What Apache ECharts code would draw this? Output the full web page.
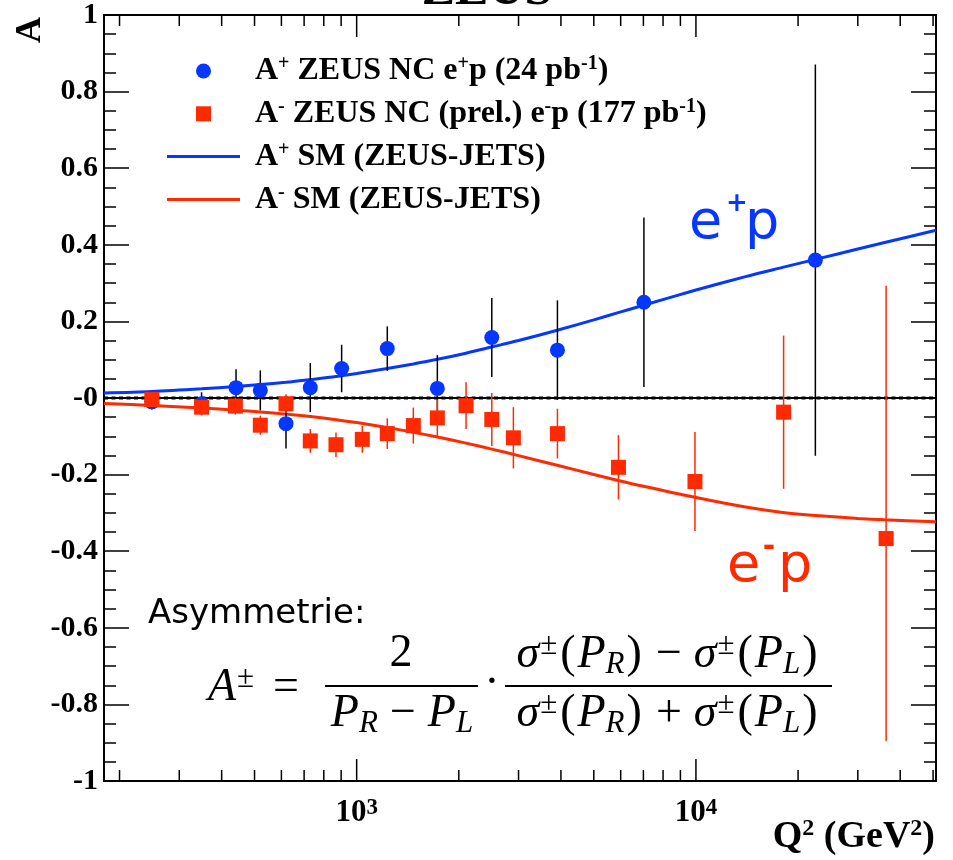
<!DOCTYPE html>
<html>
<head>
<meta charset="utf-8">
<script src="https://cdn.jsdelivr.net/npm/echarts@6/dist/echarts.min.js"></script>
<style>html,body{margin:0;padding:0;background:#fff;}#c{width:953px;height:860px;}</style>
</head>
<body>
<div id="c"></div>
<script>
// ---- data ----
const xMin = 180, xMax = 51000;
const blueQ   = [249, 349, 441, 520, 619, 730, 903, 1231, 1729, 2502, 3906, 7025, 22490];
const blueA   = [-0.010, -0.015, 0.027, 0.020, -0.067, 0.027, 0.077, 0.129, 0.025, 0.158, 0.125, 0.250, 0.360];
const blueErr = [0.020, 0.030, 0.048, 0.052, 0.065, 0.064, 0.062, 0.058, 0.087, 0.103, 0.130, 0.221, 0.511];

const redQ     = [249, 349, 439, 520, 619, 730, 869, 1039, 1231, 1469, 1729, 2101, 2502, 2897, 3906, 5910, 9934, 18130, 36350];
const redA     = [-0.004, -0.024, -0.021, -0.071, -0.015, -0.112, -0.122, -0.108, -0.093, -0.072, -0.052, -0.020, -0.056, -0.104, -0.093, -0.181, -0.218, -0.037, -0.367];
const redErrLo = [0.015, 0.020, 0.022, 0.025, 0.025, 0.031, 0.032, 0.035, 0.040, 0.047, 0.048, 0.061, 0.069, 0.080, 0.065, 0.084, 0.129, 0.200, 0.529];
const redErrHi = [0.015, 0.020, 0.022, 0.025, 0.025, 0.031, 0.032, 0.035, 0.040, 0.047, 0.048, 0.061, 0.069, 0.080, 0.065, 0.084, 0.129, 0.200, 0.660];

const smQ    = [180, 249, 349, 441, 520, 619, 730, 870, 1000, 1230, 1470, 1730, 2100, 2500, 3000, 3900, 5000, 5900, 7000, 10000, 14000, 18000, 22500, 30000, 36000, 51000];
const smPlus = [0.013, 0.017, 0.024, 0.030, 0.035, 0.041, 0.048, 0.056, 0.064, 0.077, 0.089, 0.101, 0.117, 0.133, 0.150, 0.177, 0.204, 0.223, 0.242, 0.282, 0.317, 0.341, 0.362, 0.389, 0.406, 0.438];
const smMinus= [-0.0146, -0.0195, -0.0261, -0.0317, -0.0364, -0.0421, -0.0485, -0.0565, -0.0641, -0.0771, -0.0895, -0.1019, -0.1179, -0.1334, -0.1504, -0.1757, -0.1997, -0.2152, -0.2304, -0.2598, -0.2846, -0.2988, -0.3070, -0.3145, -0.3181, -0.3234];

const xMajorTicks = [1000, 10000];
const xMinorTicks = [200, 300, 400, 500, 600, 700, 800, 900, 2000, 3000, 4000, 5000, 6000, 7000, 8000, 9000, 20000, 30000, 40000, 50000];
const zeroLine = [[xMin, 0], [xMax, 0]];

const names = [
  'A+ ZEUS NC e+p (24 pb-1)',
  'A- ZEUS NC (prel.) e-p (177 pb-1)',
  'A+ SM (ZEUS-JETS)',
  'A- SM (ZEUS-JETS)'
];
const legendRich = {};
legendRich[names[0]] = '{b|A}{s|+}{b| ZEUS NC e}{s|+}{b|p (24 pb}{s|-1}{b|)}';
legendRich[names[1]] = '{b|A}{s|-}{b| ZEUS NC (prel.) e}{s|-}{b|p (177 pb}{s|-1}{b|)}';
legendRich[names[2]] = '{b|A}{s|+}{b| SM (ZEUS-JETS)}';
legendRich[names[3]] = '{b|A}{s|-}{b| SM (ZEUS-JETS)}';

// ---- styling ----
const SERIF = '"Liberation Serif", "Times New Roman", serif';
const SANS = '"DejaVu Sans", sans-serif';
const BLUE = '#0537ff';
const RED = '#ff2a00';
const LINE_ICON = 'path://M0,0L73,0L73,3L0,3Z';
const SQUARE_ICON = 'path://M0,0L10,0L10,10L0,10Z';

const chart = echarts.init(document.getElementById('c'), null, {renderer: 'canvas'});

function tickRender(len) {
  return function (params, api) {
    const x = api.coord([api.value(0), 0])[0];
    const cs = params.coordSys;
    const b = cs.y + cs.height, t = cs.y;
    return {type: 'group', children: [
      {type: 'line', shape: {x1: x, y1: b, x2: x, y2: b - len}, style: {stroke: '#000', lineWidth: 1.5}},
      {type: 'line', shape: {x1: x, y1: t, x2: x, y2: t + len}, style: {stroke: '#000', lineWidth: 1.5}}
    ]};
  };
}
function errRender(color) {
  return function (params, api) {
    const p1 = api.coord([api.value(0), api.value(1)]);
    const p2 = api.coord([api.value(0), api.value(2)]);
    return {type: 'line', shape: {x1: p1[0], y1: p1[1], x2: p2[0], y2: p2[1]}, style: {stroke: color, lineWidth: 1.5}};
  };
}

const yAxisCommon = {
  type: 'value', min: -1, max: 1, interval: 0.2,
  axisLine: {show: true, lineStyle: {color: '#000', width: 2}},
  axisTick: {show: true, inside: true, length: 25, lineStyle: {color: '#000', width: 1.5}},
  minorTick: {show: true, splitNumber: 4, length: 12, lineStyle: {color: '#000', width: 1.5}},
  splitLine: {show: false}
};

const MF = 46, MS = 31;
const mathRich = {
  i: {fontFamily: SERIF, fontStyle: 'italic', fontSize: MF, lineHeight: 50, color: '#000'},
  n: {fontFamily: SERIF, fontSize: MF, lineHeight: 50, color: '#000'},
  q: {fontFamily: SERIF, fontSize: MF, lineHeight: 50, color: '#000', padding: [0, 2, 0, 2]},
  o: {fontFamily: SERIF, fontSize: MF, lineHeight: 50, color: '#000', padding: [0, 12, 0, 12]},
  e: {fontFamily: SERIF, fontSize: MF, lineHeight: 50, color: '#000', padding: [0, 12, 0, 18]},
  p: {fontFamily: SERIF, fontSize: MS, lineHeight: 30, verticalAlign: 'top', color: '#000', padding: [0, 1, 0, 1]},
  b: {fontFamily: SERIF, fontStyle: 'italic', fontSize: MS, lineHeight: 30, verticalAlign: 'bottom', color: '#000'}
};
const sigmaPart = function (sub) { return '{i|σ}{p|±}{q|(}{i|P}{b|' + sub + '}{q|)}'; };

const option = {
  animation: false,
  backgroundColor: '#fff',
  grid: {left: 104, right: 17, top: 15, bottom: 79, show: true, borderColor: '#000', borderWidth: 2, backgroundColor: 'transparent'},
  xAxis: [{
    type: 'log', logBase: 10, min: xMin, max: xMax, position: 'bottom',
    axisLine: {show: true, lineStyle: {color: '#000', width: 2}},
    axisTick: {show: false}, minorTick: {show: false}, splitLine: {show: false},
    axisLabel: {
      margin: 16, color: '#000',
      formatter: function (v) {
        const e = Math.log10(v);
        if (Math.abs(e - Math.round(e)) < 1e-6) return '{b|10}{s|' + Math.round(e) + '}';
        return '';
      },
      rich: {
        b: {fontFamily: SERIF, fontWeight: 'bold', fontSize: 31, lineHeight: 32, color: '#000'},
        s: {fontFamily: SERIF, fontWeight: 'bold', fontSize: 23, lineHeight: 20, verticalAlign: 'top', color: '#000'}
      }
    }
  }],
  yAxis: [
    Object.assign({}, yAxisCommon, {
      position: 'left',
      axisLabel: {
        margin: 6, color: '#000', fontFamily: SERIF, fontWeight: 'bold', fontSize: 30,
        formatter: function (v) {
          if (Math.abs(v) < 1e-9) return '-0';
          return String(Number(v.toFixed(1)));
        }
      }
    }),
    Object.assign({}, yAxisCommon, {position: 'right', axisLabel: {show: false}})
  ],
  legend: {
    orient: 'vertical', left: 167, top: 54, padding: 0,
    itemWidth: 73, itemHeight: 15, itemGap: 8.8,
    selectedMode: false,
    data: [
      {name: names[0], icon: 'circle'},
      {name: names[1], icon: SQUARE_ICON},
      {name: names[2], icon: LINE_ICON},
      {name: names[3], icon: LINE_ICON}
    ],
    formatter: function (name) { return legendRich[name]; },
    textStyle: {
      color: '#000', fontFamily: SERIF, fontWeight: 'bold', fontSize: 32, lineHeight: 34,
      padding: [0, 0, 0, 10],
      rich: {
        b: {fontFamily: SERIF, fontWeight: 'bold', fontSize: 32, lineHeight: 34, color: '#000'},
        s: {fontFamily: SERIF, fontWeight: 'bold', fontSize: 20, lineHeight: 15, verticalAlign: 'top', color: '#000'}
      }
    }
  },
  series: [
    {name: names[2], type: 'line', z: 2, data: smQ.map((q, i) => [q, smPlus[i]]), showSymbol: false, symbol: 'none', smooth: 0.3,
     lineStyle: {color: BLUE, width: 3}, itemStyle: {color: BLUE}, silent: true},
    {name: names[3], type: 'line', z: 2, data: smQ.map((q, i) => [q, smMinus[i]]), showSymbol: false, symbol: 'none', smooth: 0.3,
     lineStyle: {color: RED, width: 3}, itemStyle: {color: RED}, silent: true},
    {name: 'zero', type: 'line', z: 3, data: zeroLine, showSymbol: false, symbol: 'none',
     lineStyle: {color: '#000', width: 3.2, type: [4, 3.5]}, silent: true},
    {name: 'blueErr', type: 'custom', z: 4, clip: false, renderItem: errRender('#000'),
     data: blueQ.map((q, i) => [q, blueA[i] - blueErr[i], blueA[i] + blueErr[i]]), encode: {x: 0, y: [1, 2]}, silent: true},
    {name: names[0], type: 'scatter', z: 5, symbol: 'circle', symbolSize: 15,
     data: blueQ.map((q, i) => [q, blueA[i]]), itemStyle: {color: BLUE, opacity: 1}, silent: true},
    {name: 'redErr', type: 'custom', z: 6, clip: false, renderItem: errRender(RED),
     data: redQ.map((q, i) => [q, redA[i] - redErrLo[i], redA[i] + redErrHi[i]]), encode: {x: 0, y: [1, 2]}, silent: true},
    {name: names[1], type: 'scatter', z: 7, symbol: 'rect', symbolSize: 15,
     data: redQ.map((q, i) => [q, redA[i]]), itemStyle: {color: RED, opacity: 1}, silent: true},
    {name: 'majorTicks', type: 'custom', z: 8, clip: false, renderItem: tickRender(22),
     data: xMajorTicks.map(v => [v, 0]), encode: {x: 0, y: 1}, silent: true},
    {name: 'minorTicks', type: 'custom', z: 8, clip: false, renderItem: tickRender(11),
     data: xMinorTicks.map(v => [v, 0]), encode: {x: 0, y: 1}, silent: true}
  ],
  graphic: [
    {type: 'text', x: 487, y: -9, style: {text: 'ZEUS', font: 'bold 50px ' + SERIF, fill: '#000', align: 'center', verticalAlign: 'middle'}},
    {type: 'text', x: 31, y: 30, rotation: Math.PI / 2, style: {text: 'A', font: 'bold 36px ' + SERIF, fill: '#000', align: 'center', verticalAlign: 'middle'}},
    {type: 'text', x: 935, y: 837, style: {
      text: '{b|Q}{s|2}{b| (GeV}{s|2}{b|)}', align: 'right', verticalAlign: 'middle',
      rich: {
        b: {fontFamily: SERIF, fontWeight: 'bold', fontSize: 38, lineHeight: 40, color: '#000'},
        s: {fontFamily: SERIF, fontWeight: 'bold', fontSize: 24, lineHeight: 18, verticalAlign: 'top', color: '#000'}
      }}},
    // e+p label
    {type: 'text', x: 689, y: 224, style: {text: 'e', font: '54px ' + SANS, fill: BLUE, align: 'left', verticalAlign: 'middle'}},
    {type: 'text', x: 737, y: 204, style: {text: '+', font: 'bold 26px ' + SANS, fill: BLUE, align: 'center', verticalAlign: 'middle'}},
    {type: 'text', x: 745, y: 224, style: {text: 'p', font: '54px ' + SANS, fill: BLUE, align: 'left', verticalAlign: 'middle'}},
    // e-p label
    {type: 'text', x: 727, y: 567, style: {text: 'e', font: '54px ' + SANS, fill: RED, align: 'left', verticalAlign: 'middle'}},
    {type: 'text', x: 769, y: 548, style: {text: '-', font: 'bold 30px ' + SANS, fill: RED, align: 'center', verticalAlign: 'middle'}},
    {type: 'text', x: 778, y: 567, style: {text: 'p', font: '54px ' + SANS, fill: RED, align: 'left', verticalAlign: 'middle'}},
    {type: 'text', x: 148, y: 614, style: {text: 'Asymmetrie:', font: '34px ' + SANS, fill: '#000', align: 'left', verticalAlign: 'middle'}},
    {type: 'text', x: 208, y: 688, style: {text: '{i|A}{p|±}{e|=}', align: 'left', verticalAlign: 'middle', rich: mathRich}},
    {type: 'text', x: 401, y: 654, style: {text: '{n|2}', align: 'center', verticalAlign: 'middle', rich: mathRich}},
    {type: 'line', shape: {x1: 325, y1: 686, x2: 478, y2: 686}, style: {stroke: '#000', lineWidth: 2}},
    {type: 'text', x: 402, y: 714, style: {text: '{i|P}{b|R}{o|−}{i|P}{b|L}', align: 'center', verticalAlign: 'middle', rich: mathRich}},
    {type: 'text', x: 492, y: 684, style: {text: '{n|·}', align: 'center', verticalAlign: 'middle', rich: mathRich}},
    {type: 'text', x: 668, y: 655, style: {text: sigmaPart('R') + '{o|−}' + sigmaPart('L'), align: 'center', verticalAlign: 'middle', rich: mathRich}},
    {type: 'line', shape: {x1: 505, y1: 686, x2: 832, y2: 686}, style: {stroke: '#000', lineWidth: 2}},
    {type: 'text', x: 668, y: 714, style: {text: sigmaPart('R') + '{o|+}' + sigmaPart('L'), align: 'center', verticalAlign: 'middle', rich: mathRich}}
  ]
};
chart.setOption(option);
</script>
</body>
</html>
